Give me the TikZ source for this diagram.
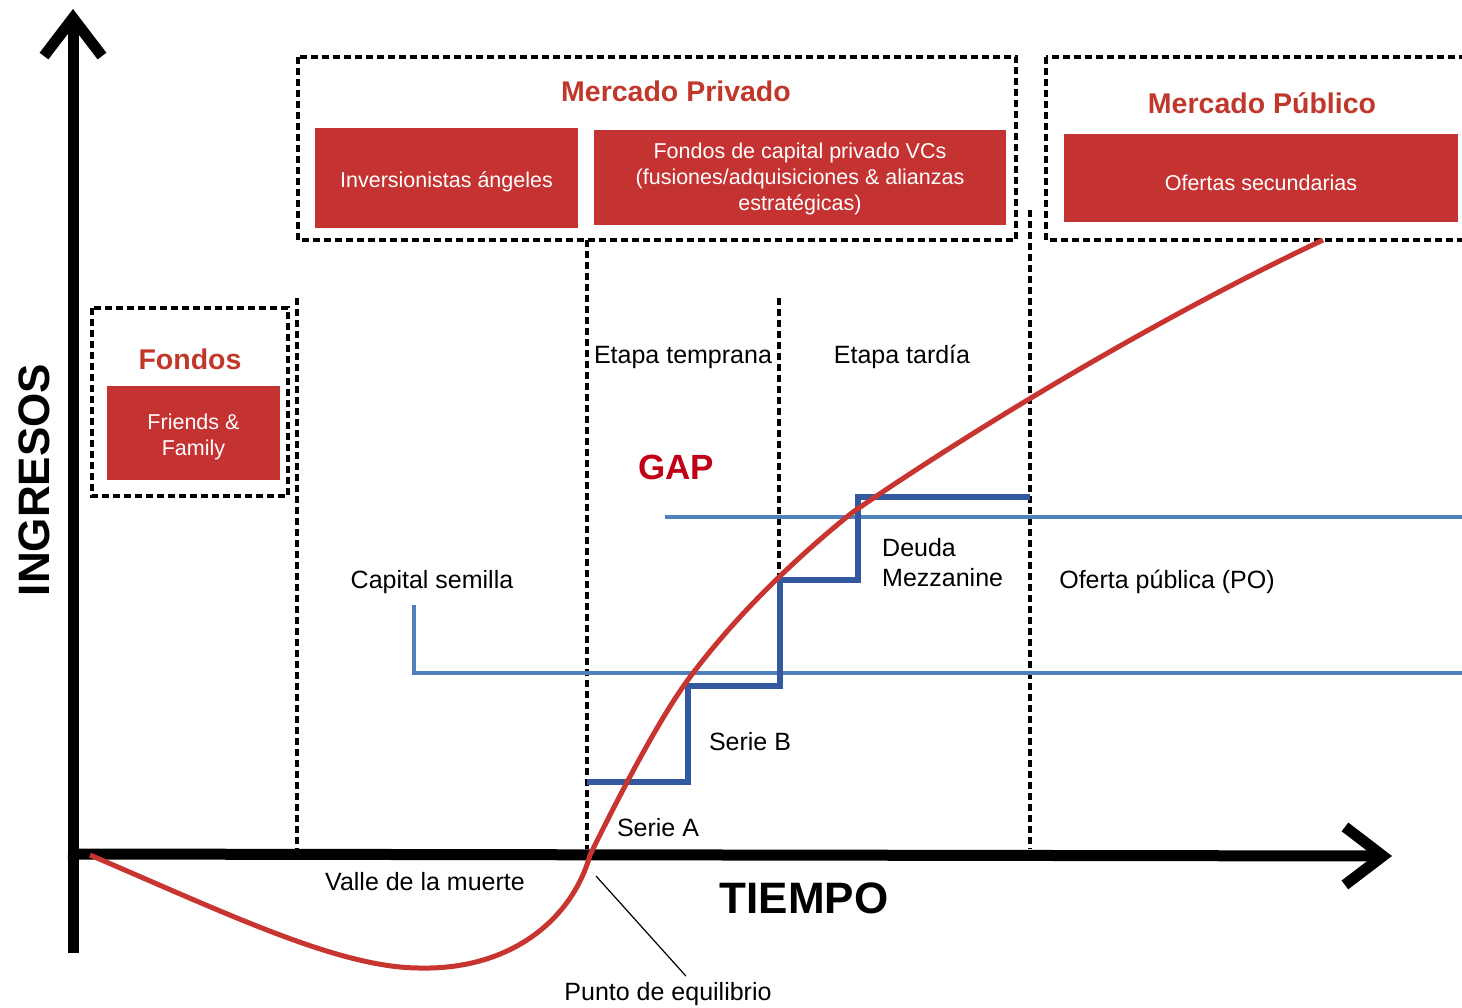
\documentclass[tikz,border=0pt]{standalone}
\usepackage{fontspec}
\setmainfont{Liberation Sans}
\usetikzlibrary{arrows.meta}

\definecolor{boxred}{RGB}{196,50,50}
\definecolor{titlered}{RGB}{192,56,44}
\definecolor{gapred}{RGB}{192,0,22}
\definecolor{curvered}{RGB}{200,52,48}
\definecolor{lightblue}{RGB}{79,129,189}
\definecolor{stepblue}{RGB}{50,88,160}

\newcommand\boxfont{\fontsize{21.5}{26}\selectfont}
\newcommand\lblfont{\fontsize{25}{30}\selectfont}
\newcommand\titlefont{\fontsize{28.5}{34}\selectfont\bfseries}

\tikzset{
  redbox/.style={fill=boxred, inner sep=0pt},
  boxtxt/.style={text=white, font=\boxfont, align=center, inner sep=0pt},
  title/.style={text=titlered, font=\titlefont, inner sep=0pt},
  lbl/.style={font=\lblfont, inner sep=0pt},
  dashbox/.style={draw, line width=3.5pt, dash pattern=on 7pt off 4pt},
  sepline/.style={line width=3.5pt, dash pattern=on 7pt off 4pt},
  axis/.style={line width=11pt, -{Straight Barb[length=38pt,width=58pt]}},
  gapline/.style={lightblue, line width=4pt},
  steps/.style={stepblue, line width=6pt},
  curve/.style={curvered, line width=5pt},
}

\def\stagesep#1#2#3{%
  \draw[sepline] (#1,#2) -- (#1,#3);
}

\begin{document}
\begin{tikzpicture}[x=1pt,y=-1pt]
\clip (0,0) rectangle (1462,1007);
% axes
\coordinate (yb) at (73,953);
\coordinate (yt) at (73,9);
\coordinate (xo) at (68,854);
\coordinate (xt) at (1392,856);
\draw[axis] (yb) -- (yt);
\draw[axis] (xo) -- (xt);
\draw (34,480) node[font=\fontsize{44}{50}\selectfont\bfseries, rotate=90] (ying) {INGRESOS};
\draw (804,898) node[font=\fontsize{44}{50}\selectfont\bfseries] (xtime) {TIEMPO};

% stages
\stagesep{297}{298}{849}  \stagesep{587}{240}{849}
\stagesep{779}{298}{684}  \stagesep{1030}{210}{849}

% fondos
\draw[dashbox] (92,308) rectangle (288,496);
\draw (190,359) node[title] (tfon) {Fondos};
\draw (193.5,433) node[redbox, minimum width=173pt, minimum height=94pt] (ff) {};
\draw (ff) ++(0,4) node[boxtxt] (fft) {Friends \&\\Family};

% mercado privado
\draw[dashbox] (298,57) rectangle (1016,240);
\draw (676,91) node[title] (tpriv) {Mercado Privado};
\draw (446.5,178) node[redbox, minimum width=263pt, minimum height=100pt] (ang) {};
\draw (ang) ++(0,4) node[boxtxt] (angt) {Inversionistas ángeles};
\draw (800,177.5) node[redbox, minimum width=412pt, minimum height=95pt] (vcs) {};
\draw (vcs) ++(0,1) node[boxtxt] (vcst)
  {Fondos de capital privado VCs\\(fusiones/adquisiciones \& alianzas\\estratégicas)};

% mercado publico
\draw[dashbox] (1046,57) rectangle (1480,240);
\draw (1262,103) node[title] (tpub) {Mercado Público};
\draw (1261,178) node[redbox, minimum width=394pt, minimum height=88pt] (sec) {};
\draw (sec) ++(0,5) node[boxtxt] (sect) {Ofertas secundarias};

% gap lines
\coordinate (gapa) at (665,517);
\coordinate (gapb) at (1480,517);
\coordinate (seed) at (414,605);
\coordinate (seedb) at (1480,673);
\draw[gapline] (gapa) -- (gapb);
\draw[gapline] (seed) |- (seedb);

% rounds
\draw[steps] (587,782) -| (688,686) -| (780,580) -| (858,497) -- (1030,497);

% ingresos
\draw[curve] (90,855) .. controls (230,915) and (340,968) .. (420,968)
  .. controls (510,970) and (572,920) .. (590,855)
  .. controls (620,794) and (660,717) .. (690,677)
  .. controls (740,610) and (803,552) .. (853,512)
  .. controls (990,418) and (1170,312) .. (1323,240);

% labels
\draw (683,357) node[lbl] (etem) {Etapa temprana};
\draw (902,357) node[lbl] (etar) {Etapa tardía};
\draw (676,467) node[font=\fontsize{35}{40}\selectfont\bfseries, text=gapred, inner sep=0pt] (gap) {GAP};
\draw (432,582) node[lbl] (cap) {Capital semilla};
\draw (882,563) node[lbl, anchor=west, align=left] (mezz) {Deuda\\Mezzanine};
\draw (1167,582) node[lbl] (po) {Oferta pública (PO)};
\draw (750,742) node[lbl] (serb) {Serie B};
\draw (658,828) node[lbl] (sera) {Serie A};
\draw (425,882) node[lbl] (valle) {Valle de la muerte};
\draw (668,994) node[lbl] (peq) {Punto de equilibrio};
\coordinate (beq) at (596,876);
\draw[line width=1.2pt] (beq) -- ([xshift=18pt,yshift=6pt]peq.north);
\end{tikzpicture}
\end{document}
